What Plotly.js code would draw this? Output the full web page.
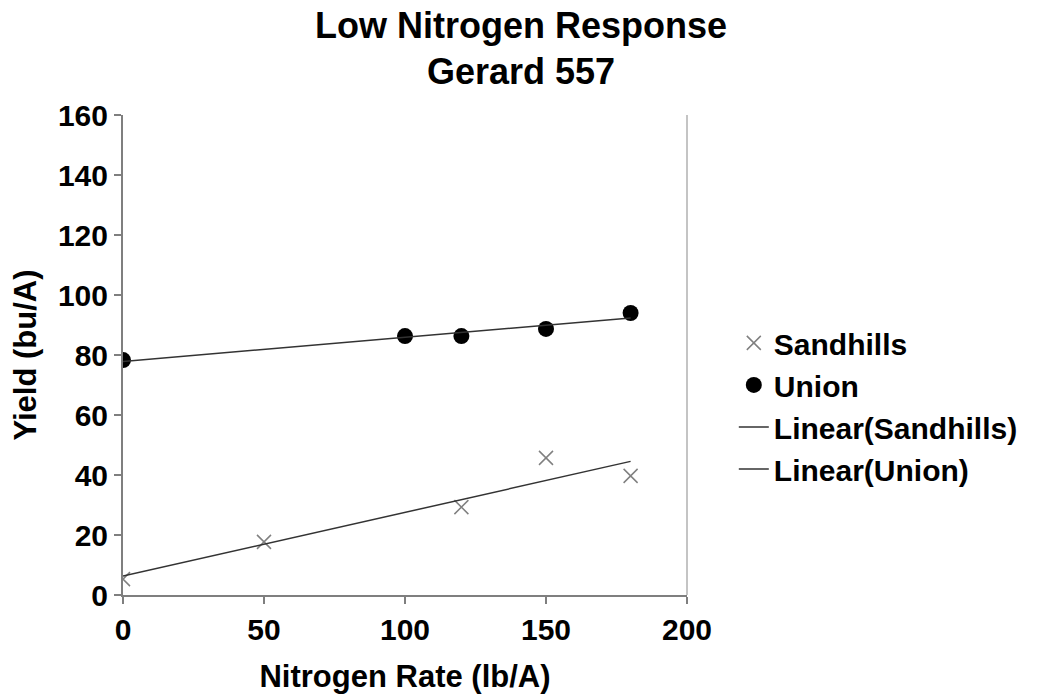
<!DOCTYPE html>
<html>
<head>
<meta charset="utf-8">
<script src="https://cdn.plot.ly/plotly-3.0.1.min.js"></script>
<style>html,body{margin:0;padding:0;background:#fff;}#chart{width:1038px;height:698px;}</style>
</head>
<body>
<div id="chart"></div>
<script>
const sandhillsX = [0, 50, 120, 150, 180];
const sandhillsY = [5.3, 17.7, 29.3, 45.7, 39.7];
const unionX = [0, 100, 120, 150, 180];
const unionY = [78.3, 86.3, 86.3, 88.7, 94.0];
const xTicks = [0, 50, 100, 150, 200];
const yTicks = [0, 20, 40, 60, 80, 100, 120, 140, 160];

function linearFit(xs, ys) {
  const n = xs.length;
  const mx = xs.reduce((a, b) => a + b, 0) / n;
  const my = ys.reduce((a, b) => a + b, 0) / n;
  let sxy = 0, sxx = 0;
  for (let i = 0; i < n; i++) { sxy += (xs[i] - mx) * (ys[i] - my); sxx += (xs[i] - mx) ** 2; }
  const m = sxy / sxx, b = my - m * mx;
  const x0 = Math.min(...xs), x1 = Math.max(...xs);
  return { x: [x0, x1], y: [b + m * x0, b + m * x1] };
}
const fitS = linearFit(sandhillsX, sandhillsY);
const fitU = linearFit(unionX, unionY);

const font = "Liberation Sans, Arial, sans-serif";
const traces = [
  { x: sandhillsX, y: sandhillsY, name: 'Sandhills', mode: 'markers', type: 'scatter',
    marker: { symbol: 'x-thin-open', size: 14, color: '#808080', line: { color: '#808080', width: 1.5 } } },
  { x: unionX, y: unionY, name: 'Union', mode: 'markers', type: 'scatter',
    marker: { symbol: 'circle', size: 16, color: '#000000' } },
  { x: fitS.x, y: fitS.y, name: 'Linear(Sandhills)', mode: 'lines', type: 'scatter',
    line: { color: '#333333', width: 1.5 } },
  { x: fitU.x, y: fitU.y, name: 'Linear(Union)', mode: 'lines', type: 'scatter',
    line: { color: '#333333', width: 1.5 } }
];

const layout = {
  width: 1038, height: 698,
  paper_bgcolor: '#ffffff', plot_bgcolor: '#ffffff',
  margin: { l: 123, r: 351, t: 115, b: 103 },
  font: { family: font, color: '#000000' },
  title: { text: '<b>Low Nitrogen Response<br>Gerard 557</b>', font: { family: font, size: 36, color: '#000' },
    x: 0.502, xref: 'container', xanchor: 'center', y: 0.946, yref: 'container', yanchor: 'top' },
  xaxis: {
    range: [0, 200], tickvals: xTicks, ticktext: xTicks.map(v => '<b>' + v + '</b>'),
    showgrid: false, zeroline: false, showline: true, linecolor: '#7f7f7f', linewidth: 2,
    ticks: 'outside', ticklen: 7, tickwidth: 2, tickcolor: '#7f7f7f',
    tickfont: { size: 30, family: font, color: '#000' },
    title: { text: '<b>Nitrogen Rate (lb/A)</b>', font: { size: 31, family: font, color: '#000' }, standoff: 20 }
  },
  yaxis: {
    range: [0, 160], tickvals: yTicks, ticktext: yTicks.map(v => '<b>' + v + '</b>'),
    showgrid: false, zeroline: false, showline: true, linecolor: '#7f7f7f', linewidth: 2,
    ticks: 'outside', ticklen: 7, tickwidth: 2, tickcolor: '#7f7f7f',
    tickfont: { size: 30, family: font, color: '#000' },
    title: { text: '<b>Yield (bu/A)</b>', font: { size: 31, family: font, color: '#000' }, standoff: 12 }
  },
  shapes: [
    { type: 'line', xref: 'paper', yref: 'paper', x0: 1, x1: 1, y0: 0, y1: 1, line: { color: '#b0b0b0', width: 1.5 } }
  ],
  showlegend: true,
  legend: {
    x: 1.083, xanchor: 'left', y: 0.394, yanchor: 'middle',
    font: { size: 30, family: font, color: '#000', weight: 'bold' },
    itemwidth: 30, tracegroupgap: 0, bgcolor: 'rgba(0,0,0,0)'
  }
};

Plotly.newPlot('chart', traces, layout, { displayModeBar: false, staticPlot: true });
</script>
</body>
</html>
